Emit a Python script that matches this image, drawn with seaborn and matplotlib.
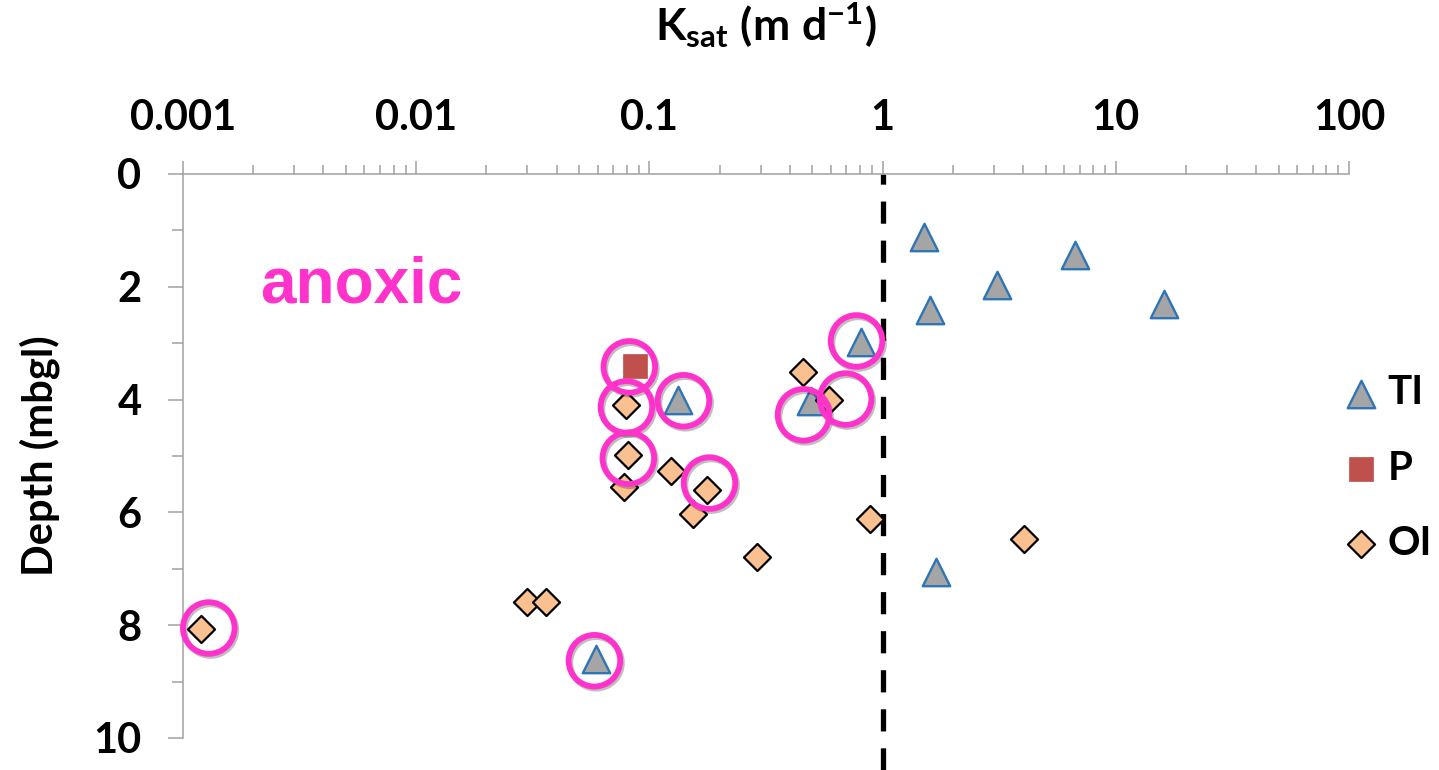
import numpy as np
import pandas as pd
import matplotlib
matplotlib.use("Agg")
import matplotlib.pyplot as plt
import matplotlib.patheffects as pe
from matplotlib.ticker import LogLocator, NullFormatter, FixedLocator
import seaborn as sns

# --- data ---
ti_k = [1.51, 6.7, 3.1, 16.1, 1.59, 0.81, 1.69, 0.133, 0.495, 0.059]
ti_depth = [1.12, 1.44, 1.97, 2.31, 2.41, 2.97, 7.06, 4.0, 4.02, 8.6]

p_k = [0.087]
p_depth = [3.40]

oi_k = [0.079, 0.081, 0.078, 0.124, 0.176, 0.154, 0.288, 0.454, 0.587,
        0.879, 4.03, 0.030, 0.036, 0.0012]
oi_depth = [4.10, 4.98, 5.55, 5.27, 5.60, 6.03, 6.79, 3.51, 4.0,
            6.12, 6.47, 7.59, 7.59, 8.07]

# samples circled as anoxic
anoxic_k = [0.082, 0.0797, 0.0812, 0.140, 0.181, 0.458, 0.694, 0.773, 0.00129, 0.0581]
anoxic_depth = [3.42, 4.13, 5.04, 4.02, 5.48, 4.27, 3.99, 2.96, 8.05, 8.63]

xtick_values = [0.001, 0.01, 0.1, 1, 10, 100]
xtick_labels = ["0.001", "0.01", "0.1", "1", "10", "100"]
threshold_k = 1.0

# --- style ---
sns.set_style("white")
plt.rcParams["font.family"] = ["Lato", "DejaVu Sans"]
plt.rcParams["font.weight"] = "bold"
plt.rcParams["text.color"] = "black"
plt.rcParams["axes.labelcolor"] = "black"
plt.rcParams["mathtext.fontset"] = "custom"
plt.rcParams["mathtext.rm"] = "Lato"
plt.rcParams["mathtext.bf"] = "Lato:bold"
plt.rcParams["mathtext.it"] = "Lato:italic"

AXIS_GREY = "#A0A0A0"
MAGENTA = "#FF33CC"

fig = plt.figure(figsize=(14.39, 7.70), dpi=100)
ax = fig.add_axes([0.12717, 0.04156, 0.81028, 0.73247])

sns.scatterplot(x=ti_k, y=ti_depth, marker="^", s=390, color="#A5A5A5",
                edgecolor="#2E75B6", linewidth=1.7, label="TI", ax=ax,
                zorder=3, clip_on=False)
sns.scatterplot(x=p_k, y=p_depth, marker="s", s=280, color="#C0504D",
                edgecolor="#C0504D", linewidth=0.5, label="P", ax=ax,
                zorder=3, clip_on=False)
sns.scatterplot(x=oi_k, y=oi_depth, marker="D", s=190, color="#FAC090",
                edgecolor="black", linewidth=1.6, label="OI", ax=ax,
                zorder=4, clip_on=False)
sns.scatterplot(x=anoxic_k, y=anoxic_depth, marker="o", s=1380, color="none",
                edgecolor=MAGENTA, linewidth=4.2, ax=ax, zorder=5,
                clip_on=False, legend=False)
ax.collections[-1].set_path_effects([
    pe.SimpleLineShadow(offset=(1.2, -1.5), shadow_color="black", alpha=0.25),
    pe.Normal()])

ax.axvline(threshold_k, ymin=-0.057, ymax=1, color="black", lw=3.8,
           ls=(0, (4.2, 3.2)), clip_on=False, zorder=2)

# --- axes ---
ax.set_xscale("log")
ax.set_xlim(0.001, 100)
ax.set_ylim(10, 0)

ax.xaxis.tick_top()
ax.xaxis.set_major_locator(FixedLocator(xtick_values))
ax.set_xticklabels(xtick_labels)
ax.xaxis.set_minor_locator(LogLocator(base=10, subs=np.arange(2, 10), numticks=20))
ax.xaxis.set_minor_formatter(NullFormatter())
ax.set_yticks(range(0, 11, 2))
ax.set_yticks(range(1, 10, 2), minor=True)

ax.tick_params(axis="x", which="major", direction="out", length=9.5, width=1.1,
               color=AXIS_GREY, labelcolor="black", labelsize=30, pad=17,
               top=True, bottom=False)
ax.tick_params(axis="x", which="minor", direction="out", length=6.5, width=1.1,
               color=AXIS_GREY, top=True, bottom=False)
ax.tick_params(axis="y", which="major", direction="out", length=10.8, width=1.1,
               color=AXIS_GREY, labelcolor="black", labelsize=30, pad=19, left=True)
ax.tick_params(axis="y", which="minor", direction="out", length=8, width=1.1,
               color=AXIS_GREY, left=True)
for lab in ax.get_xticklabels() + ax.get_yticklabels():
    lab.set_fontweight("bold")

for side in ["right", "bottom"]:
    ax.spines[side].set_visible(False)
for side in ["top", "left"]:
    ax.spines[side].set_color(AXIS_GREY)
    ax.spines[side].set_linewidth(1.1)

ax.xaxis.set_label_position("top")
ax.set_xlabel(r"$\mathbf{K}_{\mathrm{sat}}\ \mathbf{(m\ d}^{\mathrm{-1}}\mathbf{)}$",
              fontsize=32, labelpad=42)
ax.set_ylabel("Depth (mbgl)", fontsize=30, fontweight="bold", labelpad=24)

ax.text(0.00214, 2.27, "anoxic", color=MAGENTA, fontsize=46, fontweight="bold",
        family=["Liberation Sans", "DejaVu Sans"], ha="left", va="baseline")

ax.legend(loc="center left", bbox_to_anchor=(1325 / 1439, 1 - 468 / 770),
          bbox_transform=fig.transFigure, frameon=False,
          handlelength=0.8, handletextpad=0.25, labelspacing=0.95, borderpad=0,
          prop={"weight": "bold", "size": 29})

fig.savefig("out.png", dpi=100)
